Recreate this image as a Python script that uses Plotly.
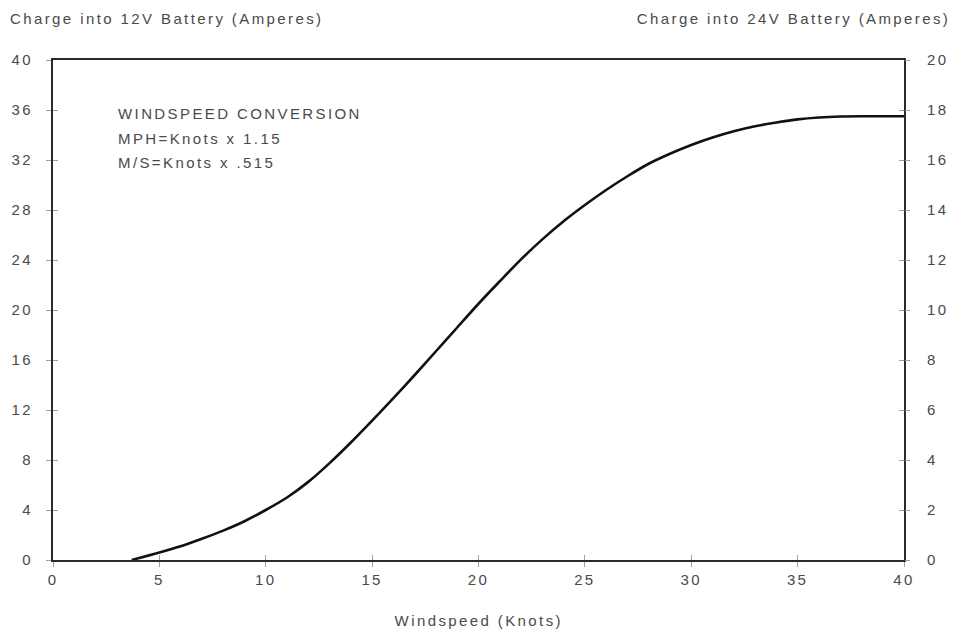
import plotly.graph_objects as go

# Data
windspeed_knots = [3.7, 5, 6, 7, 8, 9, 10, 11, 12, 13, 14, 15, 16, 17, 18, 19, 20,
                   21, 22, 23, 24, 25, 26, 27, 28, 29, 30, 31, 32, 33, 34, 35, 36,
                   37, 38, 39, 40]
charge_12v_amps = [0.0, 0.6, 1.1, 1.7, 2.35, 3.1, 4.0, 5.0, 6.25, 7.75, 9.4, 11.15, 12.95,
                   14.8, 16.7, 18.6, 20.5, 22.3, 24.05, 25.65, 27.1, 28.4, 29.6, 30.7,
                   31.7, 32.5, 33.2, 33.8, 34.3, 34.7, 35.0, 35.25, 35.4, 35.48, 35.5,
                   35.5, 35.5]

x_ticks = [0, 5, 10, 15, 20, 25, 30, 35, 40]
y12_ticks = [0, 4, 8, 12, 16, 20, 24, 28, 32, 36, 40]
y24_ticks = [0, 2, 4, 6, 8, 10, 12, 14, 16, 18, 20]

left_title = "Charge into 12V Battery (Amperes)"
right_title = "Charge into 24V Battery (Amperes)"
x_title = "Windspeed (Knots)"
note_lines = ["WINDSPEED CONVERSION", "MPH=Knots x 1.15", "M/S=Knots x .515"]

FONT = "Liberation Sans, Arial, Helvetica, sans-serif"
TXT = "#4a4a4a"
AXC = "#2a2a2a"
TICKC = "#a0a0a0"

fig = go.Figure()
fig.add_trace(go.Scatter(x=windspeed_knots, y=charge_12v_amps, mode="lines",
                         line=dict(color="#111111", width=2.6, shape="spline", smoothing=0.8),
                         hoverinfo="skip", showlegend=False))
# empty traces to create overlay axes (for crossing tick marks)
for xa, ya in [("x2", "y"), ("x", "y2"), ("x", "y3"), ("x", "y4")]:
    fig.add_trace(go.Scatter(x=[], y=[], xaxis=xa, yaxis=ya, showlegend=False, hoverinfo="skip"))

tickfont = dict(family=FONT, size=15, color=TXT)

fig.update_layout(
    width=956, height=633,
    margin=dict(l=53, r=52, t=60, b=73),
    paper_bgcolor="white", plot_bgcolor="white",
    showlegend=False,
    xaxis=dict(range=[0, 40], tickvals=x_ticks, ticks="outside", ticklen=5, tickcolor=TICKC,
               showline=True, linecolor=AXC, linewidth=2, mirror=True, showgrid=False,
               zeroline=False, tickfont=tickfont, fixedrange=True),
    xaxis2=dict(range=[0, 40], tickvals=x_ticks, ticks="inside", ticklen=5, tickcolor=TICKC,
                overlaying="x", anchor="y", side="bottom", showticklabels=False,
                showline=False, showgrid=False, zeroline=False),
    yaxis=dict(range=[0, 40], tickvals=y12_ticks, ticks="outside", ticklen=5, tickcolor=TICKC,
               showline=True, linecolor=AXC, linewidth=2, mirror=True, showgrid=False,
               zeroline=False, tickfont=tickfont, ticklabelstandoff=10),
    yaxis2=dict(range=[0, 20], tickvals=y24_ticks, ticks="outside", ticklen=5, tickcolor=TICKC,
                overlaying="y", side="right", anchor="x", showline=False, showgrid=False,
                zeroline=False, tickfont=tickfont, ticklabelstandoff=14),
    yaxis3=dict(range=[0, 40], tickvals=y12_ticks, ticks="inside", ticklen=5, tickcolor=TICKC,
                overlaying="y", side="left", anchor="x", showticklabels=False,
                showline=False, showgrid=False, zeroline=False),
    yaxis4=dict(range=[0, 20], tickvals=y24_ticks, ticks="inside", ticklen=5, tickcolor=TICKC,
                overlaying="y", side="right", anchor="x", showticklabels=False,
                showline=False, showgrid=False, zeroline=False),
)

annfont = dict(family=FONT, size=15, color=TXT)
fig.add_annotation(text=left_title, xref="paper", yref="paper", x=-0.0529, y=1.082,
                   xanchor="left", yanchor="middle", align="left", showarrow=False, font=annfont)
fig.add_annotation(text=right_title, xref="paper", yref="paper", x=1.0564, y=1.082,
                   xanchor="right", yanchor="middle", align="right", showarrow=False, font=annfont)
fig.add_annotation(text=x_title, xref="paper", yref="paper", x=0.5, y=-0.12,
                   xanchor="center", yanchor="middle", align="center", showarrow=False, font=annfont)
note_y = [35.76, 33.76, 31.84]
for line, yy in zip(note_lines, note_y):
    fig.add_annotation(text=line, x=2.96, y=yy, xref="x", yref="y", xanchor="left",
                       yanchor="middle", align="left", showarrow=False, font=annfont)

post = ("var s=document.createElement('style');"
        "s.innerHTML='body{margin:0} .main-svg text{letter-spacing:2.4px}';"
        "document.head.appendChild(s);")
fig.write_html("out.html", post_script=post, config={"displayModeBar": False})
